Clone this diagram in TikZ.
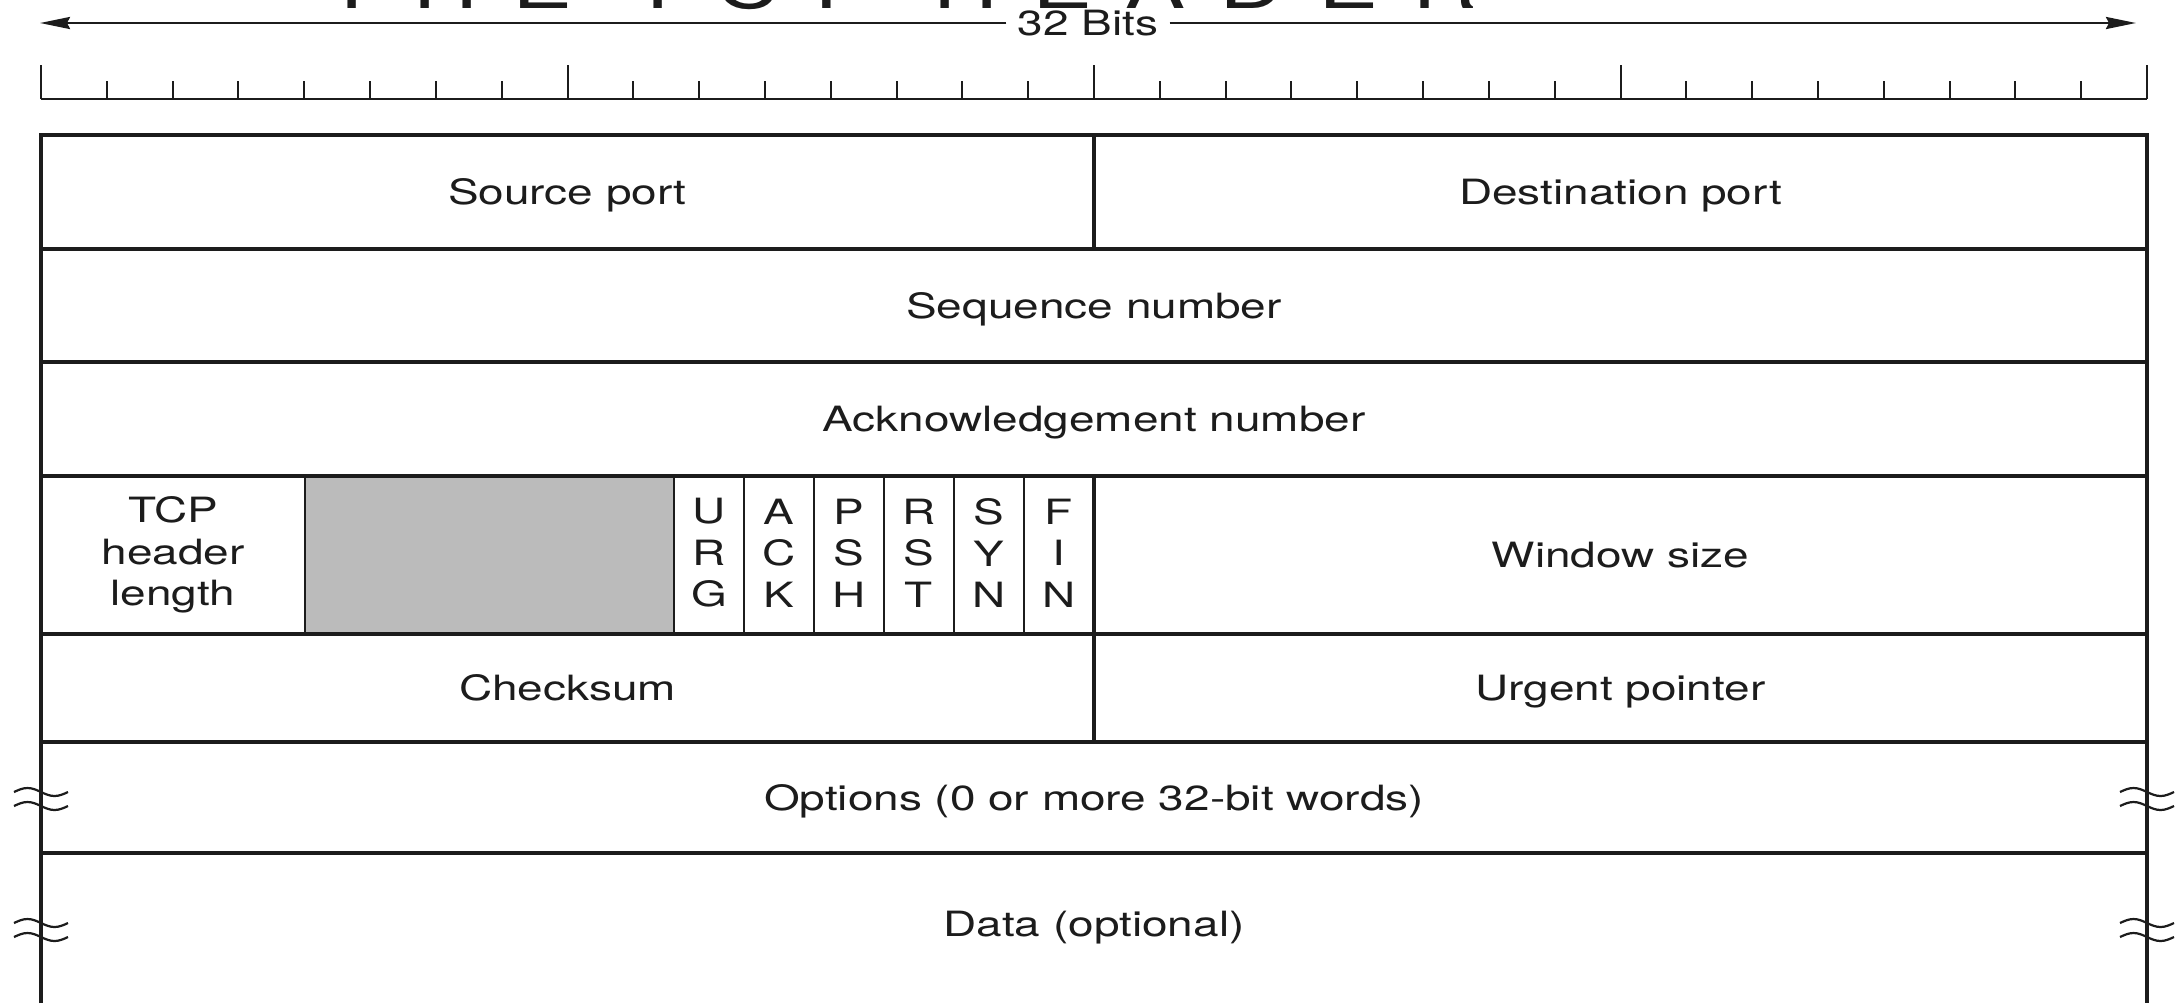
\documentclass[tikz,border=0pt]{standalone}
\usepackage{fontspec}
\setmainfont[FakeStretch=1.32]{TeX Gyre Heros}
\newfontfamily\titlefont[FakeStretch=1.32,LetterSpace=50]{TeX Gyre Heros}
\usepackage{xcolor}
\definecolor{Ink}{HTML}{1C1C1C}
\definecolor{Pad}{HTML}{BBBBBB}
\usetikzlibrary{arrows.meta,positioning,calc}
\newcommand{\fieldsize}{\fontsize{17.4}{20.8}\selectfont}

\begin{document}
\begin{tikzpicture}[
  x=0.5pt,y=-0.5pt,
  frame/.style={draw=Ink,line width=1.6pt},
  thinrule/.style={draw=Ink,line width=1pt},
  field/.style={font=\fieldsize,text=Ink,inner sep=0pt,text height=12.5pt,text depth=0pt},
  flag/.style={font=\fieldsize,text=Ink,align=center,inner sep=0pt},
  bitarrow/.style={-{Stealth[length=15pt,width=6pt,inset=1.5pt]},line width=1.3pt,draw=Ink},
  tildemark/.style={draw=Ink,line width=1.1pt}
]
\fill[white] (0,0) rectangle (2183,1003);
\useasboundingbox (0,0) rectangle (2183,1003);

% title, cut off by the top edge
\begin{scope}
\clip (0,0) rectangle (2183,1003);
\node[anchor=base west,inner sep=0pt,text=Ink,font=\titlefont\fontsize{34}{34}\selectfont] (title) at (324,8) {THE TCP HEADER};
\end{scope}

% 32 bits arrow
\node[font=\fieldsize,text=Ink,inner ysep=0pt,inner xsep=5.5pt] (bits) at (1088,23) {32 Bits};
\coordinate (leftend) at (40,23);
\coordinate (rightend) at (2136,23);
\draw[bitarrow] (bits.west) -- (leftend);
\draw[bitarrow] (bits.east) -- (rightend);

% bit ruler
\draw[thinrule] (41,99) -- (2147,99);
\foreach \i in {0,...,32}{
  \pgfmathsetmacro{\tx}{41+65.8125*\i}
  \pgfmathtruncatemacro{\major}{mod(\i,8)==0}
  \ifnum\major=1
    \draw[thinrule] (\tx,99) -- (\tx,65);
  \else
    \draw[thinrule] (\tx,99) -- (\tx,81);
  \fi
}

% header grid
\fill[Pad] (305,476) rectangle (674,634);
\foreach \xd in {305,674,744,814,884,954,1024}
  \draw[thinrule] (\xd,476) -- (\xd,634);
\draw[frame] (41,1003) -- (41,135) -- (2147,135) -- (2147,1003);
\foreach \yr in {249,362,476,634,742,853}
  \draw[frame] (41,\yr) -- (2147,\yr);
\draw[frame] (1094,135) -- (1094,249);
\draw[frame] (1094,476) -- (1094,742);

% fields
\node[field] (srcport) at (567.5,192) {Source port};
\node[field] (dstport) at (1620.5,192) {Destination port};
\node[field] (seqnum) at (1094,305.5) {Sequence number};
\node[field] (acknum) at (1094,419) {Acknowledgement number};
\node[flag] (hdrlen) at (173,555) {TCP\\header\\length};
\foreach \fl/\nm [count=\k from 0] in {U\\R\\G/urg,A\\C\\K/ack,P\\S\\H/psh,R\\S\\T/rst,S\\Y\\N/syn,F\\I\\N/fin}
  \node[flag] (\nm) at (709+70*\k,553) {\fl};
\node[field] (window) at (1620.5,555) {Window size};
\node[field] (checksum) at (567.5,688) {Checksum};
\node[field] (urgptr) at (1620.5,688) {Urgent pointer};
\node[field] (options) at (1094,797.5) {Options (0 or more 32-bit words)};
\node[field] (data) at (1094,924) {Data (optional)};

% break marks on the open rows
\foreach \bx in {41,2147}
  \foreach \by in {799,930}
    \foreach \yy in {\by-7,\by+7}
      \draw[tildemark] (\bx-27,\yy) sin (\bx-13.5,\yy-4) cos (\bx,\yy) sin (\bx+13.5,\yy+4) cos (\bx+27,\yy);
\end{tikzpicture}
\end{document}
